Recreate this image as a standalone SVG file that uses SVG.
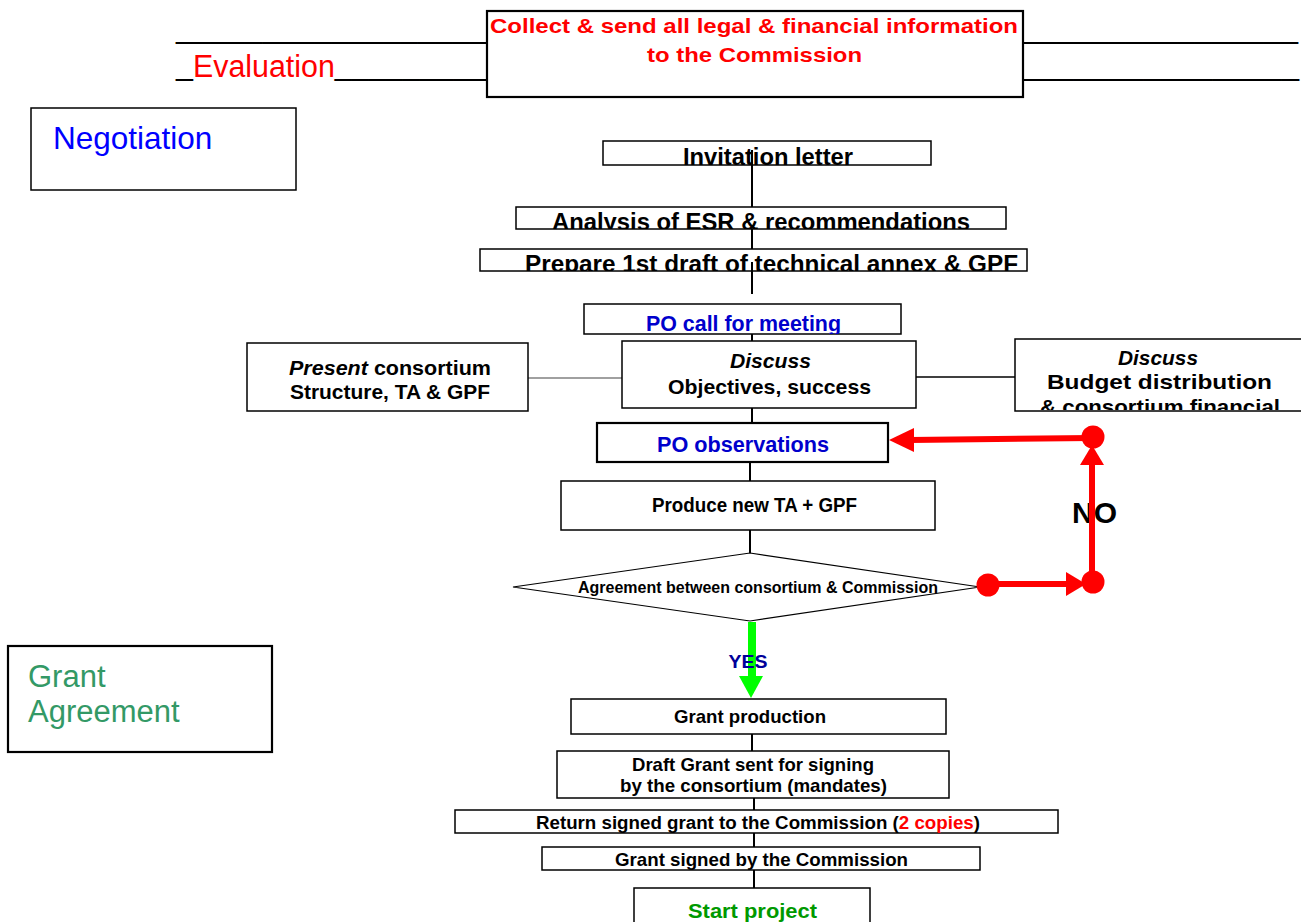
<svg xmlns="http://www.w3.org/2000/svg" width="1301" height="922" viewBox="0 0 1301 922">
<style>
text{font-family:"Liberation Sans",Arial,sans-serif}
.b{font-weight:bold}
.i{font-style:italic}
.c{text-anchor:middle}
.box{fill:#fff;stroke:#000;stroke-width:1.5}
.box2{fill:#fff;stroke:#000;stroke-width:2.2}
.ln{stroke:#000;stroke-width:2;fill:none}
.red{stroke:#ff0000;stroke-width:6;fill:none}
.blue{fill:#0000cc}
</style>
<defs>
<clipPath id="cInv"><rect x="603" y="141" width="328" height="24"/></clipPath>
<clipPath id="cAna"><rect x="516" y="207" width="490" height="22"/></clipPath>
<clipPath id="cPre"><rect x="480" y="249" width="547" height="22"/></clipPath>
<clipPath id="cPoc"><rect x="584" y="304" width="317" height="30"/></clipPath>
<clipPath id="cBud"><rect x="1015" y="339" width="290" height="71"/></clipPath>
</defs>

<g id="evaluation">
<text x="176" y="37.5" font-size="31" textLength="311" lengthAdjust="spacingAndGlyphs">__________________</text>
<text x="176" y="74.5" font-size="31" fill="#ff0000" textLength="311" lengthAdjust="spacingAndGlyphs"><tspan fill="#000">_</tspan><tspan dy="2.5">Evaluation</tspan><tspan fill="#000" dy="-2.5">_________</tspan></text>
<text x="1022" y="37.5" font-size="31" textLength="276" lengthAdjust="spacingAndGlyphs">________________</text>
<text x="1022" y="74.5" font-size="31" textLength="277" lengthAdjust="spacingAndGlyphs">________________</text>
</g>

<g id="collect">
<rect class="box2" x="487" y="11" width="536" height="86"/>
<text class="b" x="490" y="33" font-size="21" fill="#ff0000" textLength="528" lengthAdjust="spacingAndGlyphs">Collect &amp; send all legal &amp; financial information</text>
<text class="b" x="647" y="62" font-size="21" fill="#ff0000" textLength="215" lengthAdjust="spacingAndGlyphs">to the Commission</text>
</g>

<g id="negotiation">
<rect class="box" x="31" y="108" width="265" height="82"/>
<text x="53" y="149" font-size="31.5" fill="#0000ff">Negotiation</text>
</g>

<g id="connectors">
<line class="ln" x1="752" y1="150" x2="752" y2="207"/>
<line class="ln" x1="752" y1="229" x2="752" y2="249"/>
<line class="ln" x1="752" y1="262" x2="752" y2="294"/>
<line class="ln" x1="752" y1="334" x2="752" y2="341"/>
<line x1="528" y1="378" x2="622" y2="378" stroke="#808080" stroke-width="1.5"/>
<line x1="916" y1="377" x2="1015" y2="377" stroke="#000" stroke-width="1.5"/>
<line class="ln" x1="752" y1="408" x2="752" y2="423"/>
<line class="ln" x1="750" y1="462" x2="750" y2="481"/>
<line class="ln" x1="750" y1="530" x2="750" y2="553"/>
<line class="ln" x1="752" y1="734" x2="752" y2="751"/>
<line class="ln" x1="754" y1="798" x2="754" y2="810"/>
<line class="ln" x1="754" y1="833" x2="754" y2="847"/>
<line class="ln" x1="754" y1="870" x2="754" y2="888"/>
</g>

<g id="invitation">
<rect class="box" x="603" y="141" width="328" height="24"/>
<text class="b" x="683" y="165" font-size="23" clip-path="url(#cInv)" textLength="170" lengthAdjust="spacingAndGlyphs">Invitation letter</text>
</g>
<line class="ln" x1="752" y1="150" x2="752" y2="170"/>

<g id="analysis">
<rect class="box" x="516" y="207" width="490" height="22"/>
<text class="b" x="552" y="230" font-size="23" clip-path="url(#cAna)" textLength="418" lengthAdjust="spacingAndGlyphs">Analysis of ESR &amp; recommendations</text>
</g>

<g id="prepare">
<rect class="box" x="480" y="249" width="547" height="22"/>
<text class="b" x="525" y="272" font-size="23" clip-path="url(#cPre)" textLength="493" lengthAdjust="spacingAndGlyphs">Prepare 1st draft of technical annex &amp; GPF</text>
</g>
<line class="ln" x1="752" y1="262" x2="752" y2="272"/>

<g id="po-call">
<rect class="box" x="584" y="304" width="317" height="30"/>
<text class="b blue" x="646" y="331" font-size="22" clip-path="url(#cPoc)" textLength="195" lengthAdjust="spacingAndGlyphs">PO call for meeting</text>
</g>

<g id="present">
<rect class="box" x="247" y="343" width="281" height="68"/>
<text class="b" x="289" y="375" font-size="20" textLength="202" lengthAdjust="spacingAndGlyphs"><tspan class="i">Present</tspan> consortium</text>
<text class="b" x="290" y="399" font-size="20" textLength="200" lengthAdjust="spacingAndGlyphs">Structure, TA &amp; GPF</text>
</g>

<g id="discuss-objectives">
<rect class="box" x="622" y="341" width="294" height="67"/>
<text class="b i" x="730" y="368" font-size="20.5" textLength="81" lengthAdjust="spacingAndGlyphs">Discuss</text>
<text class="b" x="668" y="394" font-size="20.5" textLength="203" lengthAdjust="spacingAndGlyphs">Objectives, success</text>
</g>

<g id="discuss-budget">
<rect class="box" x="1015" y="339" width="300" height="72"/>
<g clip-path="url(#cBud)">
<text class="b i" x="1118" y="365" font-size="20.5" textLength="80" lengthAdjust="spacingAndGlyphs">Discuss</text>
<text class="b" x="1047" y="389" font-size="20.5" textLength="225" lengthAdjust="spacingAndGlyphs">Budget distribution</text>
<text class="b" x="1040" y="414" font-size="20.5" textLength="240" lengthAdjust="spacingAndGlyphs">&amp; consortium financial</text>
</g>
</g>

<g id="po-observations">
<rect class="box2" x="597" y="423" width="291" height="39"/>
<text class="b blue" x="657" y="452" font-size="21.5" textLength="172" lengthAdjust="spacingAndGlyphs">PO observations</text>
</g>

<g id="produce">
<rect class="box" x="561" y="481" width="374" height="49"/>
<text class="b" x="652" y="512" font-size="19.5" textLength="205" lengthAdjust="spacingAndGlyphs">Produce new TA + GPF</text>
</g>

<g id="agreement">
<polygon points="513,587 750,553 980,587 750,621" fill="#fff" stroke="#000" stroke-width="1.2"/>
<text class="b" x="578" y="593" font-size="16.5" textLength="360" lengthAdjust="spacingAndGlyphs">Agreement between consortium &amp; Commission</text>
</g>

<g id="no-label">
<text class="b" x="1072" y="523" font-size="30" textLength="45" lengthAdjust="spacingAndGlyphs">NO</text>
</g>

<g id="no-loop">
<line class="red" x1="988" y1="584" x2="1068" y2="584"/>
<polygon points="1066,572 1086,584 1066,596" fill="#ff0000"/>
<circle cx="988" cy="585" r="11.5" fill="#ff0000"/>
<line class="red" x1="1092" y1="582" x2="1092" y2="460"/>
<polygon points="1080,465 1092,445 1104,465" fill="#ff0000"/>
<circle cx="1093" cy="582" r="11.5" fill="#ff0000"/>
<line class="red" x1="1092" y1="438" x2="910" y2="440"/>
<polygon points="914,428 889,440 914,452" fill="#ff0000"/>
<circle cx="1093" cy="437" r="11.5" fill="#ff0000"/>
</g>

<g id="yes-arrow">
<rect x="748" y="622" width="8" height="55" fill="#00ff00"/>
<polygon points="739,676 763,676 751,698" fill="#00ff00"/>
<text class="b c" x="748" y="668" font-size="19" fill="#000099" textLength="39" lengthAdjust="spacingAndGlyphs">YES</text>
</g>

<g id="grant-agreement-label">
<rect class="box2" x="8" y="646" width="264" height="106"/>
<text x="28" y="687" font-size="31" fill="#339966">Grant</text>
<text x="28" y="722" font-size="31" fill="#339966">Agreement</text>
</g>

<g id="grant-production">
<rect class="box" x="571" y="699" width="375" height="35"/>
<text class="b" x="674" y="723" font-size="19" textLength="152" lengthAdjust="spacingAndGlyphs">Grant production</text>
</g>

<g id="draft-grant">
<rect class="box" x="557" y="751" width="392" height="47"/>
<text class="b" x="632" y="771" font-size="19" textLength="242" lengthAdjust="spacingAndGlyphs">Draft Grant sent for signing</text>
<text class="b" x="620" y="792" font-size="19" textLength="267" lengthAdjust="spacingAndGlyphs">by the consortium (mandates)</text>
</g>

<g id="return-grant">
<rect class="box" x="455" y="810" width="603" height="23"/>
<text class="b" x="536" y="829" font-size="18" textLength="444" lengthAdjust="spacingAndGlyphs">Return signed grant to the Commission (<tspan fill="#ff0000">2 copies</tspan>)</text>
</g>

<g id="grant-signed">
<rect class="box" x="542" y="847" width="438" height="23"/>
<text class="b" x="615" y="866" font-size="18.5" textLength="293" lengthAdjust="spacingAndGlyphs">Grant signed by the Commission</text>
</g>

<g id="start-project">
<rect class="box" x="634" y="888" width="236" height="50"/>
<text class="b" x="688" y="918" font-size="21" fill="#009900" textLength="129" lengthAdjust="spacingAndGlyphs">Start project</text>
</g>
</svg>
